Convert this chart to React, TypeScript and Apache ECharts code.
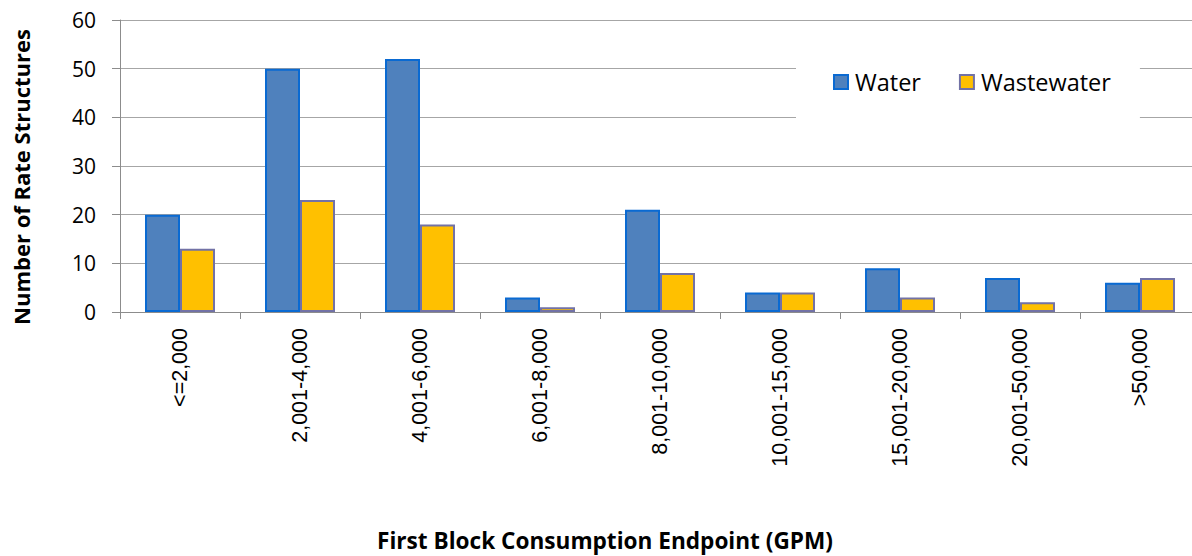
import React, { useEffect, useRef } from "react";
import * as echarts from "echarts";

const categories = [
  "<=2,000",
  "2,001-4,000",
  "4,001-6,000",
  "6,001-8,000",
  "8,001-10,000",
  "10,001-15,000",
  "15,001-20,000",
  "20,001-50,000",
  ">50,000",
];
const waterValues = [20, 50, 52, 3, 21, 4, 9, 7, 6];
const wastewaterValues = [13, 23, 18, 1, 8, 4, 3, 2, 7];
const seriesNames = ["Water", "Wastewater"];
const yAxisTitle = "Number of Rate Structures";
const xAxisTitle = "First Block Consumption Endpoint (GPM)";

export default function App() {
  const ref = useRef<HTMLDivElement>(null);
  useEffect(() => {
    if (!ref.current) return;
    const chart = echarts.init(ref.current, null, { renderer: "svg" });
    chart.setOption({
      animation: false,
      backgroundColor: "#ffffff",
      grid: { left: 120, right: 0, top: 20, bottom: 244, containLabel: false },
      legend: {
        left: 796,
        top: 46,
        orient: "horizontal",
        backgroundColor: "#ffffff",
        padding: [24, 29, 28, 37],
        itemGap: 38,
        itemWidth: 14,
        itemHeight: 14,
        icon: "rect",
        textStyle: {
          fontFamily: "Open Sans",
          fontSize: 23.5,
          color: "#000000",
          lineHeight: 22,
          padding: [0, 0, 0, 2],
        },
        data: seriesNames,
      },
      xAxis: {
        type: "category",
        data: categories,
        axisLine: { show: true, lineStyle: { color: "#8c8c8c", width: 1 } },
        axisTick: { show: true, length: 7, alignWithLabel: false, lineStyle: { color: "#8c8c8c" } },
        axisLabel: {
          rotate: 90,
          margin: 16,
          interval: 0,
          fontFamily: "Liberation Sans",
          fontSize: 21.5,
          color: "#000000",
        },
        splitLine: { show: false },
      },
      yAxis: {
        type: "value",
        min: 0,
        max: 60,
        interval: 10,
        axisLine: { show: true, lineStyle: { color: "#8c8c8c", width: 1 } },
        axisTick: { show: true, inside: false, length: 8, lineStyle: { color: "#8c8c8c" } },
        axisLabel: {
          margin: 24,
          fontFamily: "Open Sans",
          fontSize: 21,
          color: "#000000",
        },
        splitLine: { show: true, lineStyle: { color: "#a6a6a6", width: 1 } },
      },
      series: [
        {
          name: seriesNames[0],
          type: "bar",
          data: waterValues,
          barWidth: 35,
          barGap: "0%",
          z: 1,
          itemStyle: { color: "#4F81BD", borderColor: "#0A6AD2", borderWidth: 2 },
        },
        {
          name: seriesNames[1],
          type: "bar",
          data: wastewaterValues,
          barWidth: 35,
          barGap: "0%",
          z: 1,
          itemStyle: { color: "#FFC000", borderColor: "#7272A6", borderWidth: 2 },
        },
      ],
      graphic: [
        {
          type: "text",
          rotation: Math.PI / 2,
          x: 21,
          y: 177,
          style: {
            text: yAxisTitle,
            fontFamily: "Open Sans",
            fontWeight: "bold",
            fontSize: 22,
            fill: "#000000",
            textAlign: "center",
            textVerticalAlign: "middle",
          },
        },
        {
          type: "text",
          x: 605,
          y: 540,
          style: {
            text: xAxisTitle,
            fontFamily: "Open Sans",
            fontWeight: "bold",
            fontSize: 22.6,
            lineHeight: 24,
            fill: "#000000",
            textAlign: "center",
            textVerticalAlign: "middle",
          },
        },
      ],
    });
    return () => chart.dispose();
  }, []);
  return (
    <div
      ref={ref}
      style={{ position: "fixed", left: 0, top: 0, width: 1200, height: 556 }}
    />
  );
}
